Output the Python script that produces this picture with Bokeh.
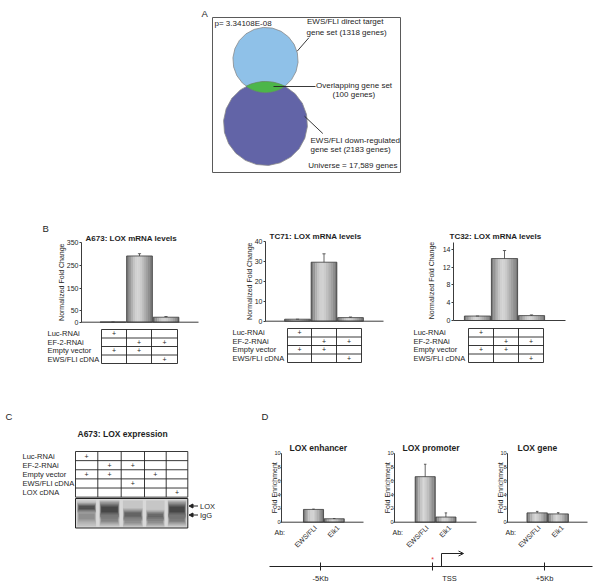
import math
from bokeh.plotting import figure
from bokeh.models import Range1d, LinearAxis, FixedTicker, Arrow, NormalHead, OpenHead
from bokeh.core.properties import value
from bokeh.embed import file_html
from bokeh.resources import INLINE

FONT = "Liberation Sans"
INK = "#1e1e1e"

# ---------------- data ----------------
venn_labels = ["EWS/FLI direct target", "EWS/FLI down-regulated"]
venn_counts = [1318, 2183]
venn_overlap = 100
venn_universe = 17589
venn_p = "3.34108E-08"

b_titles = ["A673: LOX mRNA levels", "TC71: LOX mRNA levels", "TC32: LOX mRNA levels"]
b_values = [[1, 292, 22], [1, 29.5, 1.8], [1, 13.9, 1.1]]
b_errors = [[0, 10, 3], [0, 4.2, 0.3], [0, 1.8, 0.15]]
b_ticks = [[0, 50, 150, 250, 350], [0, 10, 20, 30, 40], [0, 4, 8, 12, 16]]
b_tick_labels = [["0", "50", "150", "250", "350"], ["0", "10", "20", "30", "40"], ["0", "4", "8", "12", "14"]]
b_axis_max = [350, 40, 17.6]
b_ylabel = "Normalized Fold Change"
b_rows = ["Luc-RNAi", "EF-2-RNAi", "Empty vector", "EWS/FLI cDNA"]
b_marks = [[1, 0, 0], [0, 1, 1], [1, 1, 0], [0, 0, 1]]

c_title = "A673: LOX expression"
c_rows = ["Luc-RNAi", "EF-2-RNAi", "Empty vector", "EWS/FLI cDNA", "LOX cDNA"]
c_marks = [[1, 0, 0, 0, 0], [0, 1, 1, 0, 0], [1, 1, 0, 1, 0], [0, 0, 1, 0, 0], [0, 0, 0, 0, 1]]
c_bands = ["LOX", "IgG"]
# blot bands: lane (1-5), centre (page y), height, darkness
c_band_lane = [1, 1, 2, 2, 3, 3, 4, 4, 5, 5]
c_band_y = [507, 516, 509, 519, 514, 521, 515, 521, 509, 519]
c_band_h = [8, 14, 14, 10, 10, 9, 9, 9, 14, 10]
c_band_dark = [0.85, 0.3, 1.0, 0.4, 0.65, 0.3, 0.6, 0.3, 1.0, 0.45]

d_titles = ["LOX enhancer", "LOX promoter", "LOX gene"]
d_antibodies = ["EWS/FLI", "Elk1"]
d_values = [[1.85, 0.5], [6.6, 0.75], [1.35, 1.2]]
d_errors = [[0.05, 0.03], [1.8, 0.6], [0.22, 0.18]]
d_ticks = [0, 2, 4, 6, 8, 10]
d_ylabel = "Fold Enrichment"
d_sites_kb = [-5, 0, 5]
d_site_labels = ["-5Kb", "TSS", "+5Kb"]

# ---------------- layout (page pixels) ----------------
X0, X1, Y0, Y1 = 0, 598, 0, 584
p = figure(width=X1 - X0, height=Y1 - Y0, x_range=Range1d(X0, X1), y_range=Range1d(Y1, Y0),
           x_axis_type=None, y_axis_type=None, toolbar_location=None, output_backend="svg",
           min_border=0, outline_line_color=None, background_fill_color="white")

xr, yr = {}, {}


def chart_ranges(name, cat1_px, step_px, y0_px, ppu):
    xr[name + "x"] = Range1d(1 + (X0 - cat1_px) / step_px, 1 + (X1 - cat1_px) / step_px)
    yr[name + "y"] = Range1d((y0_px - Y1) / ppu, (y0_px - Y0) / ppu)


def tx(x, y, text, size="8px", align="left", baseline="middle", style="normal", angle=0.0,
       color=INK, xrn="default", yrn="default", x_offset=0):
    p.text(x=x, y=y, text=text, text_font=value(FONT), text_font_size=size, text_align=align,
           text_baseline=baseline, text_font_style=style, angle=angle, text_color=color,
           x_range_name=xrn, y_range_name=yrn, x_offset=x_offset)


SHADES = ["#7c7c7c", "#959595", "#afafaf", "#c4c4c4", "#d0d0d0", "#d2d2d2",
          "#cbcbcb", "#bfbfbf", "#b0b0b0", "#a0a0a0", "#8f8f8f", "#7a7a7a"]


def bars(name, values, errors, bw):
    cats = list(range(1, len(values) + 1))
    ns = len(SHADES)
    for k, col in enumerate(SHADES):
        off = ((k + 0.5) / ns - 0.5) * bw
        p.vbar(x=[c + off for c in cats], width=bw / ns * 1.15, top=values, bottom=0,
               fill_color=col, line_color=None, x_range_name=name + "x", y_range_name=name + "y")
    p.vbar(x=cats, width=bw, top=values, bottom=0, fill_color=None, line_color="#3c3c3c",
           line_width=0.8, x_range_name=name + "x", y_range_name=name + "y")
    tops = [v + e for v, e in zip(values, errors)]
    p.segment(x0=cats, y0=values, x1=cats, y1=tops, line_color="#3c3c3c", line_width=0.8,
              x_range_name=name + "x", y_range_name=name + "y")
    p.segment(x0=[c - 0.06 for c in cats], y0=tops, x1=[c + 0.06 for c in cats], y1=tops,
              line_color="#3c3c3c", line_width=0.8, x_range_name=name + "x", y_range_name=name + "y")


def yaxis(name, loc, top, ticks, labels, fs, tick_out, standoff):
    ax = LinearAxis(y_range_name=name + "y", fixed_location=loc, bounds=(0, top),
                    ticker=FixedTicker(ticks=ticks),
                    major_label_overrides={t: l for t, l in zip(ticks, labels)},
                    major_tick_in=0, major_tick_out=tick_out, minor_tick_line_color=None,
                    major_label_standoff=standoff, major_label_text_font=FONT,
                    major_label_text_font_size=fs, major_label_text_color=INK,
                    axis_line_color="#3c3c3c", major_tick_line_color="#3c3c3c")
    p.add_layout(ax, "left")


def table(col_edges, top, row_h, labels, marks, label_x, fs):
    n = len(labels)
    bottom = top + n * row_h
    ys = [top + i * row_h for i in range(n + 1)]
    p.segment(x0=[col_edges[0]] * len(ys), y0=ys, x1=[col_edges[-1]] * len(ys), y1=ys,
              line_color="#222222", line_width=0.9)
    p.segment(x0=col_edges, y0=[top] * len(col_edges), x1=col_edges, y1=[bottom] * len(col_edges),
              line_color="#222222", line_width=0.9)
    tx([label_x] * n, [top + (i + 0.5) * row_h for i in range(n)], labels, size=fs)
    mx, my = [], []
    for i, row in enumerate(marks):
        for j, m in enumerate(row):
            if m:
                mx.append((col_edges[j] + col_edges[j + 1]) / 2)
                my.append(top + (i + 0.5) * row_h)
    tx(mx, my, ["+"] * len(mx), size="7px", align="center")


# ---------------- panel A : Venn ----------------
tx([201], [13], ["A"], size="9.5px")
p.quad(left=[212], right=[400], top=[17], bottom=[172], fill_color=None, line_color="#5a5a5a", line_width=1)
k = 42 / math.sqrt(venn_counts[1])
r_top, r_bot = k * math.sqrt(venn_counts[0]), k * math.sqrt(venn_counts[1])
cx, cy_top, cy_bot = 265, 59.5, 123


def ngon(cx_, cy_, r, n=22):
    return ([cx_ + r * math.cos(2 * math.pi * (i + 0.25) / n) for i in range(n)],
            [cy_ + r * math.sin(2 * math.pi * (i + 0.25) / n) for i in range(n)])


gx1, gy1 = ngon(cx, cy_top, r_top)
gx2, gy2 = ngon(cx, cy_bot, r_bot)
p.patches(xs=[gx1, gx2], ys=[gy1, gy2], fill_color=["#8fc1e8", "#6264a7"],
          line_color="#8a8a8a", line_width=0.8)
d = cy_bot - cy_top
a = (d * d + r_top ** 2 - r_bot ** 2) / (2 * d)
h = math.sqrt(r_top ** 2 - a ** 2)
t1 = math.atan2(a, h)
t2 = math.atan2(a, -h)
u1 = math.atan2(a - d, -h)
u2 = math.atan2(a - d, h)
lx, ly = [], []
for i in range(21):
    t = t1 + (t2 - t1) * i / 20
    lx.append(cx + r_top * math.cos(t)); ly.append(cy_top + r_top * math.sin(t))
for i in range(21):
    t = u1 + (u2 - u1) * i / 20
    lx.append(cx + r_bot * math.cos(t)); ly.append(cy_bot + r_bot * math.sin(t))
p.patch(x=lx, y=ly, fill_color="#4cb64a", line_color="#6a8a6a", line_width=0.6)
p.segment(x0=[296.7, 273, 304], y0=[50.7, 86, 115.7], x1=[308.3, 315, 322.3], y1=[37.3, 86, 133],
          line_color="#222222", line_width=0.9)
tx([214], [22.5], [f"p= {venn_p}"])
tx([306.5, 306, 310, 310],
   [21, 31.5, 139.5, 149],
   [venn_labels[0], f"gene set ({venn_counts[0]} genes)", venn_labels[1], f"gene set ({venn_counts[1]} genes)"])
tx([315.5, 332], [84.5, 94], ["Overlapping gene set", f"({venn_overlap} genes)"])
tx([397], [165], [f"Universe = {venn_universe:,} genes"], align="right")

# ---------------- panel B : qPCR ----------------
tx([42], [227.5], ["B"], size="9.5px")
B_AXIS_X = [81, 265, 453]
B_AXIS_END = [198, 383, 565]
B_Y0 = [321.7, 320.7, 320.0]
B_PPU = [79.4 / 350, 2.0, 71.3 / 16]
B_CAT1 = [112.5, 297, 477]
B_STEP = [26.5, 26.5, 27]
B_TITLE_X = [85, 269, 449]
B_TITLE_Y = [238, 236, 236]
B_YLAB_X = [61, 249, 431]
B_TAB = [[101, 126, 151, 177], [287, 311, 336, 361], [468, 493, 518, 543]]
B_TAB_TOP = [329, 328, 328]
B_LAB_X = [47, 232, 413]
for i in range(3):
    nm = f"b{i}"
    chart_ranges(nm, B_CAT1[i], B_STEP[i], B_Y0[i], B_PPU[i])
for i in range(3):
    nm = f"b{i}"
    bars(nm, b_values[i], b_errors[i], 0.97)
    yaxis(nm, B_AXIS_X[i], b_axis_max[i], b_ticks[i], b_tick_labels[i], "7px", 2, 1)
    p.segment(x0=[B_AXIS_X[i]], y0=[0], x1=[B_AXIS_END[i]], y1=[0], line_color="#3c3c3c",
              line_width=1, y_range_name=nm + "y")
    tx([B_TITLE_X[i]], [B_TITLE_Y[i]], [b_titles[i]], size="8px", style="bold")
    tx([B_YLAB_X[i]], [B_Y0[i] - 40], [b_ylabel], size="7px", align="center", angle=math.pi / 2)
    table(B_TAB[i], B_TAB_TOP[i], 8.5, b_rows, b_marks, B_LAB_X[i], "7.5px")

# ---------------- panel C : western blot ----------------
tx([5], [415.5], ["C"], size="9.5px")
tx([77], [433], [c_title], size="8.5px", style="bold")
C_TAB = [75, 97.3, 120.7, 144, 165.7, 187.3]
table(C_TAB, 451, 9.13, c_rows, c_marks, 22, "7.5px")
p.quad(left=[75], right=[187.3], top=[498], bottom=[527.5], fill_color="#d8d8d8", line_color=None)
lane_c = [(C_TAB[j] + C_TAB[j + 1]) / 2 for j in range(5)]
lane_w = [(C_TAB[j + 1] - C_TAB[j]) * 0.85 for j in range(5)]
p.quad(left=[c - w / 2 for c, w in zip(lane_c, lane_w)], right=[c + w / 2 for c, w in zip(lane_c, lane_w)],
       top=[500] * 5, bottom=[526] * 5, fill_color="#9a9a9a", fill_alpha=0.3, line_color=None)
for frac, alpha in [(1.3, 0.1), (1.1, 0.12), (0.95, 0.14), (0.8, 0.16), (0.65, 0.18), (0.5, 0.2), (0.35, 0.22)]:
    L = [lane_c[ln - 1] - lane_w[ln - 1] / 2 * min(1.0, 0.75 + 0.2 * frac) for ln in c_band_lane]
    R = [lane_c[ln - 1] + lane_w[ln - 1] / 2 * min(1.0, 0.75 + 0.2 * frac) for ln in c_band_lane]
    T = [max(499.0, y - hh * frac / 2) for y, hh in zip(c_band_y, c_band_h)]
    Bm = [min(526.5, y + hh * frac / 2) for y, hh in zip(c_band_y, c_band_h)]
    p.quad(left=L, right=R, top=T, bottom=Bm, fill_color="#151515",
           fill_alpha=[alpha * dk for dk in c_band_dark], line_color=None)
p.quad(left=[75], right=[187.3], top=[498], bottom=[527.5], fill_color=None, line_color="#222222", line_width=1)
for yy in [505.5, 514.5]:
    p.add_layout(Arrow(end=NormalHead(size=4, fill_color="#222222", line_color="#222222"),
                       x_start=197.5, y_start=yy, x_end=188.5, y_end=yy, line_color="#222222", line_width=1))
tx([199.5, 199.5], [505.5, 514.5], c_bands, size="7.5px")

# ---------------- panel D : ChIP ----------------
tx([261], [415.5], ["D"], size="9.5px")
D_AXIS_X = [281, 394, 507]
D_AXIS_END = [363, 476, 587]
D_CAT1 = [313, 424.7, 536.7]
D_STEP = [20.7, 20.7, 21]
D_Y0 = 521.7
D_PPU = 6.9
D_TITLE_X = [289, 402, 517]
D_YLAB_X = [274, 387, 500]
D_AB_X = [274, 392, 505]
for i in range(3):
    chart_ranges(f"d{i}", D_CAT1[i], D_STEP[i], D_Y0, D_PPU)
xr["gx"] = Range1d((X0 - 432) / 22.4, (X1 - 432) / 22.4)
p.extra_x_ranges = xr
p.extra_y_ranges = yr
for i in range(3):
    nm = f"d{i}"
    bars(nm, d_values[i], d_errors[i], 0.97)
    yaxis(nm, D_AXIS_X[i], 10, d_ticks, [str(t) for t in d_ticks], "5.5px", 1, 0)
    p.segment(x0=[D_AXIS_X[i]], y0=[0], x1=[D_AXIS_END[i]], y1=[0], line_color="#3c3c3c",
              line_width=1, y_range_name=nm + "y")
    tx([D_TITLE_X[i]], [447], [d_titles[i]], size="8.5px", style="bold")
    tx([D_YLAB_X[i]], [D_Y0 - 34.5], [d_ylabel], size="7px", align="center", angle=math.pi / 2)
    tx([D_AB_X[i]], [532], ["Ab:"], size="7px")
    tx([1.1, 2.2], [526, 526], d_antibodies, size="7px", align="right", angle=math.pi / 4,
       xrn=nm + "x")

# genomic axis
p.segment(x0=[269], y0=[566], x1=[592], y1=[566], line_color="#222222", line_width=1)
p.segment(x0=d_sites_kb, y0=[562] * 3, x1=d_sites_kb, y1=[570] * 3, line_color="#222222",
          line_width=1, x_range_name="gx")
tx(d_sites_kb, [577.5] * 3, d_site_labels, size="7.5px", align="center", xrn="gx", x_offset=[0, 17, 0])
tx([0], [559], ["*"], size="7px", align="center", color="#e03030", xrn="gx")
p.segment(x0=[441], y0=[566], x1=[441], y1=[553], line_color="#222222", line_width=1)
p.add_layout(Arrow(end=OpenHead(size=5, line_color="#222222", line_width=1), x_start=441, y_start=553,
                   x_end=463, y_end=553, line_color="#222222", line_width=1))

open("out.html", "w").write(file_html(p, INLINE, "LOX figure"))
